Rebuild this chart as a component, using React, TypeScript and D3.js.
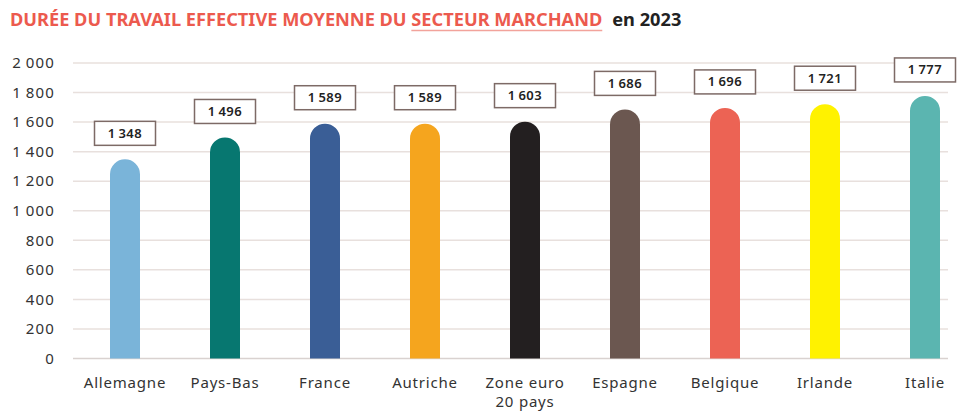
import React, { useLayoutEffect, useRef, useState } from 'react'
import * as d3 from 'd3'

const countries = ['Allemagne', 'Pays-Bas', 'France', 'Autriche', 'Zone euro\n20 pays', 'Espagne', 'Belgique', 'Irlande', 'Italie']
const hours = [1348, 1496, 1589, 1589, 1603, 1686, 1696, 1721, 1777]
const colors = ['#7ab4d9', '#077770', '#3a5e96', '#f5a51e', '#231f20', '#6b5750', '#ec6354', '#fff200', '#5bb5b0']
const yTicks = [0, 200, 400, 600, 800, 1000, 1200, 1400, 1600, 1800, 2000]

const W = 961
const H = 418
const font = "'Noto Sans', sans-serif"

// french number style with thin space
const fmt = (v: number) => (v >= 1000 ? `${Math.floor(v / 1000)}\u2009${String(v % 1000).padStart(3, '0')}` : String(v))

const App: React.FC = () => {
  const underRef = useRef<SVGTSpanElement | null>(null)
  const [under, setUnder] = useState<{ x: number; w: number } | null>(null)

  useLayoutEffect(() => {
    if (!underRef.current) return
    const b = underRef.current.getBBox()
    setUnder({ x: b.x, w: b.width })
  }, [])

  const x = d3.scaleBand().domain(countries).range([75, 975])
  const y = d3.scaleLinear().domain([0, 2000]).range([358.5, 63])
  const barW = 30
  const r = barW / 2

  const barPath = (cx: number, top: number, bottom: number) => {
    const p = d3.path()
    p.moveTo(cx - r, bottom)
    p.lineTo(cx - r, top + r)
    p.arc(cx, top + r, r, Math.PI, 0)
    p.lineTo(cx + r, bottom)
    p.closePath()
    return p.toString()
  }

  return (
    <svg width={W} height={H} style={{ position: 'absolute', left: 0, top: 0 }}>
      <rect width={W} height={H} fill="#fff" />
      {/* title */}
      <text x={10} y={26} fontFamily={font} fontWeight={700} fontSize={18.2} fill="#ec5a4e">
        <tspan>DURÉE DU TRAVAIL EFFECTIVE MOYENNE DU </tspan>
        <tspan ref={underRef}>SECTEUR MARCHAND</tspan>
        <tspan fill="#222" dx={10}>en 2023</tspan>
      </text>
      {under && <line x1={under.x} x2={under.x + under.w} y1={30.5} y2={30.5} stroke="#f2a39b" strokeWidth={1.6} />}

      {/* grid */}
      {yTicks.map(t => (
        <g key={t}>
          <line x1={73} x2={948} y1={y(t)} y2={y(t)} stroke={t === 0 ? '#d9d2d0' : '#e8e0dd'} strokeWidth={1.5} />
          <text x={55} y={y(t)} dy="0.35em" textAnchor="end" fontFamily={font} fontSize={15} letterSpacing={1.2} fill="#333">
            {fmt(t)}
          </text>
        </g>
      ))}

      {/* bars */}
      {countries.map((c, i) => {
        const cx = (x(c) ?? 0) + x.bandwidth() / 2
        const top = y(hours[i])
        return (
          <g key={c}>
            <path d={barPath(cx, top, y(0))} fill={colors[i]} />
            <rect x={cx - 30.5} y={top - 38} width={61} height={24} fill="#fff" stroke="#7d6a66" strokeWidth={1.5} />
            <text x={cx} y={top - 26} dy="0.35em" textAnchor="middle" fontFamily={font} fontWeight={600} fontSize={13} letterSpacing={0.5} fill="#222">
              {fmt(hours[i])}
            </text>
            {c.split('\n').map((line, j) => (
              <text key={j} x={cx} y={388 + j * 19} textAnchor="middle" fontFamily={font} fontSize={15} letterSpacing={0.8} fill="#333">
                {line}
              </text>
            ))}
          </g>
        )
      })}
    </svg>
  )
}

export default App
